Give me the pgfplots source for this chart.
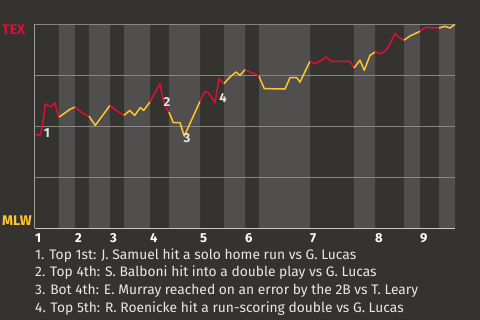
\documentclass[border=0pt]{standalone}
\usepackage{pgfplots}
\pgfplotsset{compat=1.18}
\usepackage{fontspec}
\setmainfont{Fira Sans}

\definecolor{bgdark}{RGB}{53,51,48}
\definecolor{bandlight}{RGB}{80,79,77}
\definecolor{gridgray}{RGB}{135,135,133}
\definecolor{axisgray}{RGB}{200,200,200}
\definecolor{texred}{RGB}{224,14,50}
\definecolor{mlwgold}{RGB}{255,197,47}
\definecolor{notegray}{RGB}{232,232,232}

\begin{document}
\begin{tikzpicture}[x=1pt,y=1pt]
\fill[bgdark] (0,0) rectangle (480,320);

\begin{axis}[
  at={(35pt,91.5pt)}, anchor=south west,
  scale only axis, width=420pt, height=204.2pt,
  xmin=0, xmax=420, ymin=0, ymax=100,
  axis line style={draw=none},
  xtick={0,40,75,115,165,210,275,340,385},
  xticklabels={1,2,3,4,5,6,7,8,9},
  ytick=\empty,
  major tick length=0pt,
  xticklabel style={anchor=north west, inner sep=0pt, font=\fontsize{13}{13}\selectfont\bfseries, text=white, yshift=-4.8pt},
  no markers, clip=false,
]
% half-inning shading (bottom halves lighter)
\addplot[ybar interval, fill=bandlight, draw=none] coordinates {
  (0,0)(24,100)(40,0)(54,100)(75,0)(89,100)(115,0)(134,100)(165,0)(189,100)
  (210,0)(224,100)(275,0)(319,100)(340,0)(369,100)(385,0)(404,100)(420,0)};
% probability grid
\addplot[gridgray, line width=1pt] coordinates {(0,25)(420,25)};
\addplot[gridgray, line width=1pt] coordinates {(0,50)(420,50)};
\addplot[gridgray, line width=1pt] coordinates {(0,75)(420,75)};
\addplot[gridgray, line width=1pt] coordinates {(0,100)(420,100)};
\addplot[gridgray!80!white, line width=1pt] coordinates {(0,0)(0,100)};
\addplot[axisgray, line width=1.5pt] coordinates {(0,0)(420,0)};

% win probability, one segment per half inning
\addplot[texred, line width=1.5pt, line join=round] coordinates {(0,45.9)(5.5,45.9)(7.5,50.5)(10.3,61.1)(16.3,59.5)(19.7,61.6)(24,54.5)};
\addplot[mlwgold, line width=1.5pt, line join=round] coordinates {(24,54.5)(29.7,56.5)(34.7,58.3)(40,59.5)};
\addplot[texred, line width=1.5pt, line join=round] coordinates {(40,59.5)(46.3,57.0)(51.3,55.4)(54,55.0)};
\addplot[mlwgold, line width=1.5pt, line join=round] coordinates {(54,55.0)(60.3,50.5)(75,60.3)};
\addplot[texred, line width=1.5pt, line join=round] coordinates {(75,60.3)(81.3,57.8)(89,55.4)};
\addplot[mlwgold, line width=1.5pt, line join=round] coordinates {(89,55.4)(94.7,57.8)(99.7,55.4)(105.3,59.2)(108.7,57.8)(115,62.0)};
\addplot[texred, line width=1.5pt, line join=round] coordinates {(115,62.0)(125,70.9)(128.3,62.7)(131.7,58.7)(134,57.0)};
\addplot[mlwgold, line width=1.5pt, line join=round] coordinates {(134,57.0)(138.3,51.8)(145,51.8)(149.3,45.2)(165,62.3)};
\addplot[texred, line width=1.5pt, line join=round] coordinates {(165,62.3)(170,67.2)(173.3,66.5)(180,61.6)(184,73.4)(186.7,72.1)(189,70.9)};
\addplot[mlwgold, line width=1.5pt, line join=round] coordinates {(189,70.9)(195,74.2)(201,76.6)(205,75.0)(210,77.8)};
\addplot[texred, line width=1.5pt, line join=round] coordinates {(210,77.8)(215,76.6)(223,75.0)(224,74.5)};
\addplot[mlwgold, line width=1.5pt, line join=round] coordinates {(224,74.5)(229.3,68.5)(250,68.3)(255,73.9)(261.7,73.9)(265,71.7)(275,81.9)};
\addplot[texred, line width=1.5pt, line join=round] coordinates {(275,81.9)(280,80.7)(285,82.0)(291,84.0)(296,81.9)(315,81.9)(319,78.6)};
\addplot[mlwgold, line width=1.5pt, line join=round] coordinates {(319,78.6)(325,82.4)(329.3,77.5)(335,84.8)(340,86.4)};
\addplot[texred, line width=1.5pt, line join=round] coordinates {(340,86.4)(345,85.6)(350,86.8)(353.3,88.9)(360,95.4)(365,93.3)(369,92.2)};
\addplot[mlwgold, line width=1.5pt, line join=round] coordinates {(369,92.2)(375,94.3)(380,95.4)(385,96.6)};
\addplot[texred, line width=1.5pt, line join=round] coordinates {(385,96.6)(391,98.7)(396.7,98.2)(404,98.2)};
\addplot[mlwgold, line width=1.5pt, line join=round] coordinates {(404,98.2)(410,99.0)(415,98.2)(420,100)};

% key plays
\begin{scope}[every node/.style={text=notegray, font=\fontsize{13}{13}\selectfont\bfseries, inner sep=0pt}]
\node at (axis cs:12,46.8) {1};
\node at (axis cs:132,61.9) {2};
\node at (axis cs:152,44.3) {3};
\node at (axis cs:188,63.9) {4};
\end{scope}
\end{axis}

\node[anchor=base west, inner sep=0pt, text=texred, font=\fontsize{14}{14}\selectfont\bfseries] at (2,285.4) {TEX};
\node[anchor=base west, inner sep=0pt, text=mlwgold, font=\fontsize{14}{14}\selectfont\bfseries] at (2,94.3) {MLW};

\begin{scope}[every node/.style={anchor=base west, inner sep=0pt, text=notegray, font=\fontsize{13.8}{13.8}\selectfont}]
\node at (35,60.7) {1. Top 1st: J. Samuel hit a solo home run vs G. Lucas};
\node at (35,43.1) {2. Top 4th: S. Balboni hit into a double play vs G. Lucas};
\node at (35,25.5) {3. Bot 4th: E. Murray reached on an error by the 2B vs T. Leary};
\node at (35,7.9) {4. Top 5th: R. Roenicke hit a run-scoring double vs G. Lucas};
\end{scope}
\end{tikzpicture}
\end{document}
